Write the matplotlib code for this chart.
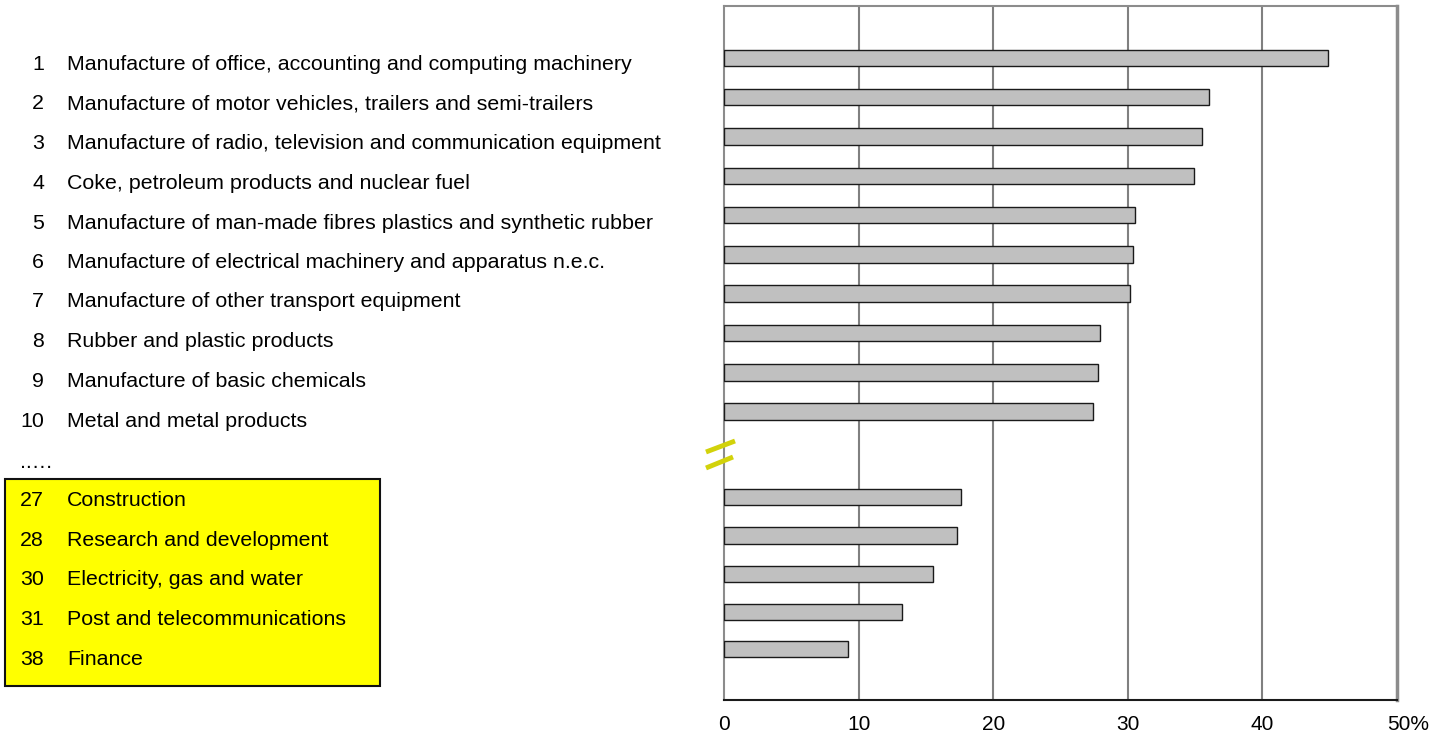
import matplotlib
matplotlib.use("Agg")
import matplotlib.pyplot as plt
import matplotlib.transforms as mtransforms
from matplotlib.patches import Rectangle
from matplotlib.lines import Line2D

plt.rcParams['font.family'] = ['Liberation Sans', 'DejaVu Sans']

ranks = ["1", "2", "3", "4", "5", "6", "7", "8", "9", "10", "27", "28", "30", "31", "38"]
sectors = [
    "Manufacture of office, accounting and computing machinery",
    "Manufacture of motor vehicles, trailers and semi-trailers",
    "Manufacture of radio, television and communication equipment",
    "Coke, petroleum products and nuclear fuel",
    "Manufacture of man-made fibres plastics and synthetic rubber",
    "Manufacture of electrical machinery and apparatus n.e.c.",
    "Manufacture of other transport equipment",
    "Rubber and plastic products",
    "Manufacture of basic chemicals",
    "Metal and metal products",
    "Construction",
    "Research and development",
    "Electricity, gas and water",
    "Post and telecommunications",
    "Finance",
]
values = [44.9, 36.0, 35.5, 34.9, 30.5, 30.4, 30.2, 27.9, 27.8, 27.4,
          17.6, 17.3, 15.5, 13.2, 9.2]
xticks = [0, 10, 20, 30, 40, 50]
xticklabels = ["0", "10", "20", "30", "40", "50%"]

# layout: bar slots (data units), top group and bottom group after the break
bar_pos = [0, 1, 2, 3, 4, 5, 6, 7, 8, 9, 11.17, 12.16, 13.13, 14.1, 15.04]

W, H = 1442, 735
fig = plt.figure(figsize=(W / 100, H / 100), dpi=100)

ax = fig.add_axes([724 / W, 1 - 700 / H, (1397 - 724) / W, (700 - 6) / H])
ax.barh(bar_pos, values, height=0.42, color="#c0c0c0", edgecolor="#1a1a1a",
        linewidth=1.0, zorder=3)
ax.set_xlim(0, 50)
ax.set_ylim(16.34, -1.32)
ax.set_xticks(xticks)
ax.set_xticklabels(xticklabels, fontsize=15)
ax.set_yticks([])
ax.tick_params(axis='x', length=0, pad=11)
# last label: number centred on the tick, "%" trailing
last = ax.get_xticklabels()[-1]
last.set_transform(last.get_transform() +
                   mtransforms.ScaledTranslation(11 / 100, 0, fig.dpi_scale_trans))
for t in xticks[1:-1]:
    ax.axvline(t, color="#808080", linewidth=1.5, zorder=1)
for s in ["left", "top"]:
    ax.spines[s].set_color("#8c8c8c")
    ax.spines[s].set_linewidth(1.5)
ax.spines["right"].set_color("#8c8c8c")
ax.spines["right"].set_linewidth(2.5)
ax.spines["bottom"].set_color("#1a1a1a")
ax.spines["bottom"].set_linewidth(1.5)

# left-hand labels: baselines in figure pixels
label_base = [70, 109, 149, 189, 229, 268, 307, 347, 387, 427,
              506, 546, 585, 625, 665]

# yellow box behind the bottom group
fig.patches.append(Rectangle((5 / W, 1 - 686 / H), (380 - 5) / W, (686 - 479) / H,
                             transform=fig.transFigure, facecolor="#ffff00",
                             edgecolor="#111111", linewidth=1.5, zorder=0))

for r, s, y in zip(ranks, sectors, label_base):
    fig.text(44 / W, 1 - y / H, r, ha="right", va="baseline", fontsize=15.4)
    fig.text(67 / W, 1 - y / H, s, ha="left", va="baseline", fontsize=15.4)
fig.text(20 / W, 1 - 468 / H, "..…", ha="left", va="baseline", fontsize=15.4)

# axis break marks
for (x0, y0, x1, y1) in [(706, 452, 735, 441), (706, 468, 733, 457)]:
    fig.add_artist(Line2D([x0 / W, x1 / W], [1 - y0 / H, 1 - y1 / H],
                          transform=fig.transFigure, color="#d2d20a",
                          linewidth=3.5, solid_capstyle="butt", zorder=5))

fig.savefig("out.png", dpi=100)
